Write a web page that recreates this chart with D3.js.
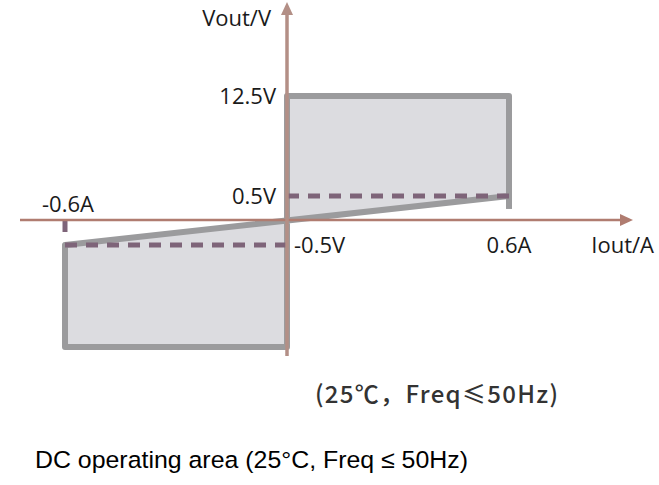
<!DOCTYPE html>
<html>
<head>
<meta charset="utf-8">
<script src="https://cdn.jsdelivr.net/npm/d3@7"></script>
<style>
  body { margin: 0; background: #fff; }
  text { font-family: "Open Sans", sans-serif; fill: #1a1a1a; }
</style>
</head>
<body>
<div id="chart"></div>
<script>
const width = 659;
const height = 485;

// operating area outline (Iout in A, Vout in V)
const areaI = [0, 0.6, 0.6, -0.6, -0.6, 0];
const areaV = [12.5, 12.5, 0.5, -0.5, -12.5, -12.5];
// dashed limits
const dashI = [[0, 0.6], [-0.6, 0]];
const dashV = [0.5, -0.5];
// tick labels
const yLabels = [{ v: 12.5, t: "12.5V" }, { v: 0.5, t: "0.5V" }, { v: -0.5, t: "-0.5V" }];
const xLabels = [{ i: -0.6, t: "-0.6A" }, { i: 0.6, t: "0.6A" }];

// y scale is not to scale: small voltages are stretched
const x = d3.scaleLinear().domain([-0.6, 0, 0.6]).range([65, 287, 509]);
const y = d3.scaleLinear().domain([-12.5, -0.5, 0, 0.5, 12.5]).range([347, 245, 220, 196, 96]);

const svg = d3.select("#chart")
  .append("svg")
  .attr("width", width)
  .attr("height", height);

const pts = areaI.map((d, k) => [x(d), y(areaV[k])]);

svg.append("polygon")
  .attr("points", pts.map(p => p.join(",")).join(" "))
  .style("fill", "#dcdce0")
  .style("stroke", "#9b9b9d")
  .style("stroke-width", 6)
  .style("stroke-linejoin", "round");

// stub below 0.6A corner
svg.append("line")
  .attr("x1", x(0.6)).attr("x2", x(0.6))
  .attr("y1", y(0.5)).attr("y2", y(0.23))
  .style("stroke", "#9b9b9d")
  .style("stroke-width", 6);

// dashed lines
dashI.forEach((r, k) => {
  svg.append("line")
    .attr("x1", x(r[0])).attr("x2", x(r[1]))
    .attr("y1", y(dashV[k])).attr("y2", y(dashV[k]))
    .style("stroke", "#7e6479")
    .style("stroke-width", 5)
    .style("stroke-dasharray", "12,9");
});

// tick at -0.6A
svg.append("line")
  .attr("x1", x(-0.6)).attr("x2", x(-0.6))
  .attr("y1", y(0)).attr("y2", y(-0.24))
  .style("stroke", "#7e6479")
  .style("stroke-width", 5);

// axes
svg.append("line")
  .attr("x1", 20).attr("x2", 626)
  .attr("y1", y(0)).attr("y2", y(0))
  .style("stroke", "#b07c70")
  .style("stroke-width", 2.5);
svg.append("path")
  .attr("d", `M633,${y(0)} L620,${y(0) - 6} L620,${y(0) + 6} Z`)
  .style("fill", "#b07c70");

svg.append("line")
  .attr("x1", x(0)).attr("x2", x(0))
  .attr("y1", 356).attr("y2", 10)
  .style("stroke", "#b38f86")
  .style("stroke-width", 3.5);
svg.append("path")
  .attr("d", `M${x(0)},2 L${x(0) - 6},15 L${x(0) + 6},15 Z`)
  .style("fill", "#b38f86");

// labels
svg.append("text").attr("x", 271).attr("y", 26)
  .attr("text-anchor", "end").style("font-size", "22px").text("Vout/V");

svg.append("text").attr("x", 654).attr("y", 253)
  .attr("text-anchor", "end").style("font-size", "22px").text("Iout/A");

svg.selectAll(".ylab")
  .data(yLabels)
  .enter()
  .append("text")
  .attr("x", d => d.v < 0 ? x(0) + 7 : x(0) - 11)
  .attr("y", d => d.v < 0 ? y(d.v) + 8 : y(d.v) + 8)
  .attr("text-anchor", d => d.v < 0 ? "start" : "end")
  .style("font-size", "22px")
  .text(d => d.t);

svg.selectAll(".xlab")
  .data(xLabels)
  .enter()
  .append("text")
  .attr("x", d => d.i < 0 ? x(d.i) + 3 : x(d.i))
  .attr("y", d => d.i < 0 ? 212 : 253)
  .attr("text-anchor", "middle")
  .style("font-size", "22px")
  .text(d => d.t);

svg.append("text").attr("x", 315).attr("y", 403)
  .attr("textLength", 243).attr("lengthAdjust", "spacing")
  .style("font-family", "'Noto Sans CJK SC'")
  .style("font-size", "24px")
  .style("font-weight", 500)
  .style("fill", "#333")
  .text("(25℃，Freq≤50Hz)");

svg.append("text").attr("x", 35).attr("y", 468)
  .attr("textLength", 433).attr("lengthAdjust", "spacingAndGlyphs")
  .style("font-family", "'Liberation Sans', Arial, sans-serif")
  .style("font-size", "24.5px")
  .style("fill", "#000")
  .text("DC operating area (25°C, Freq ≤ 50Hz)");
</script>
</body>
</html>
